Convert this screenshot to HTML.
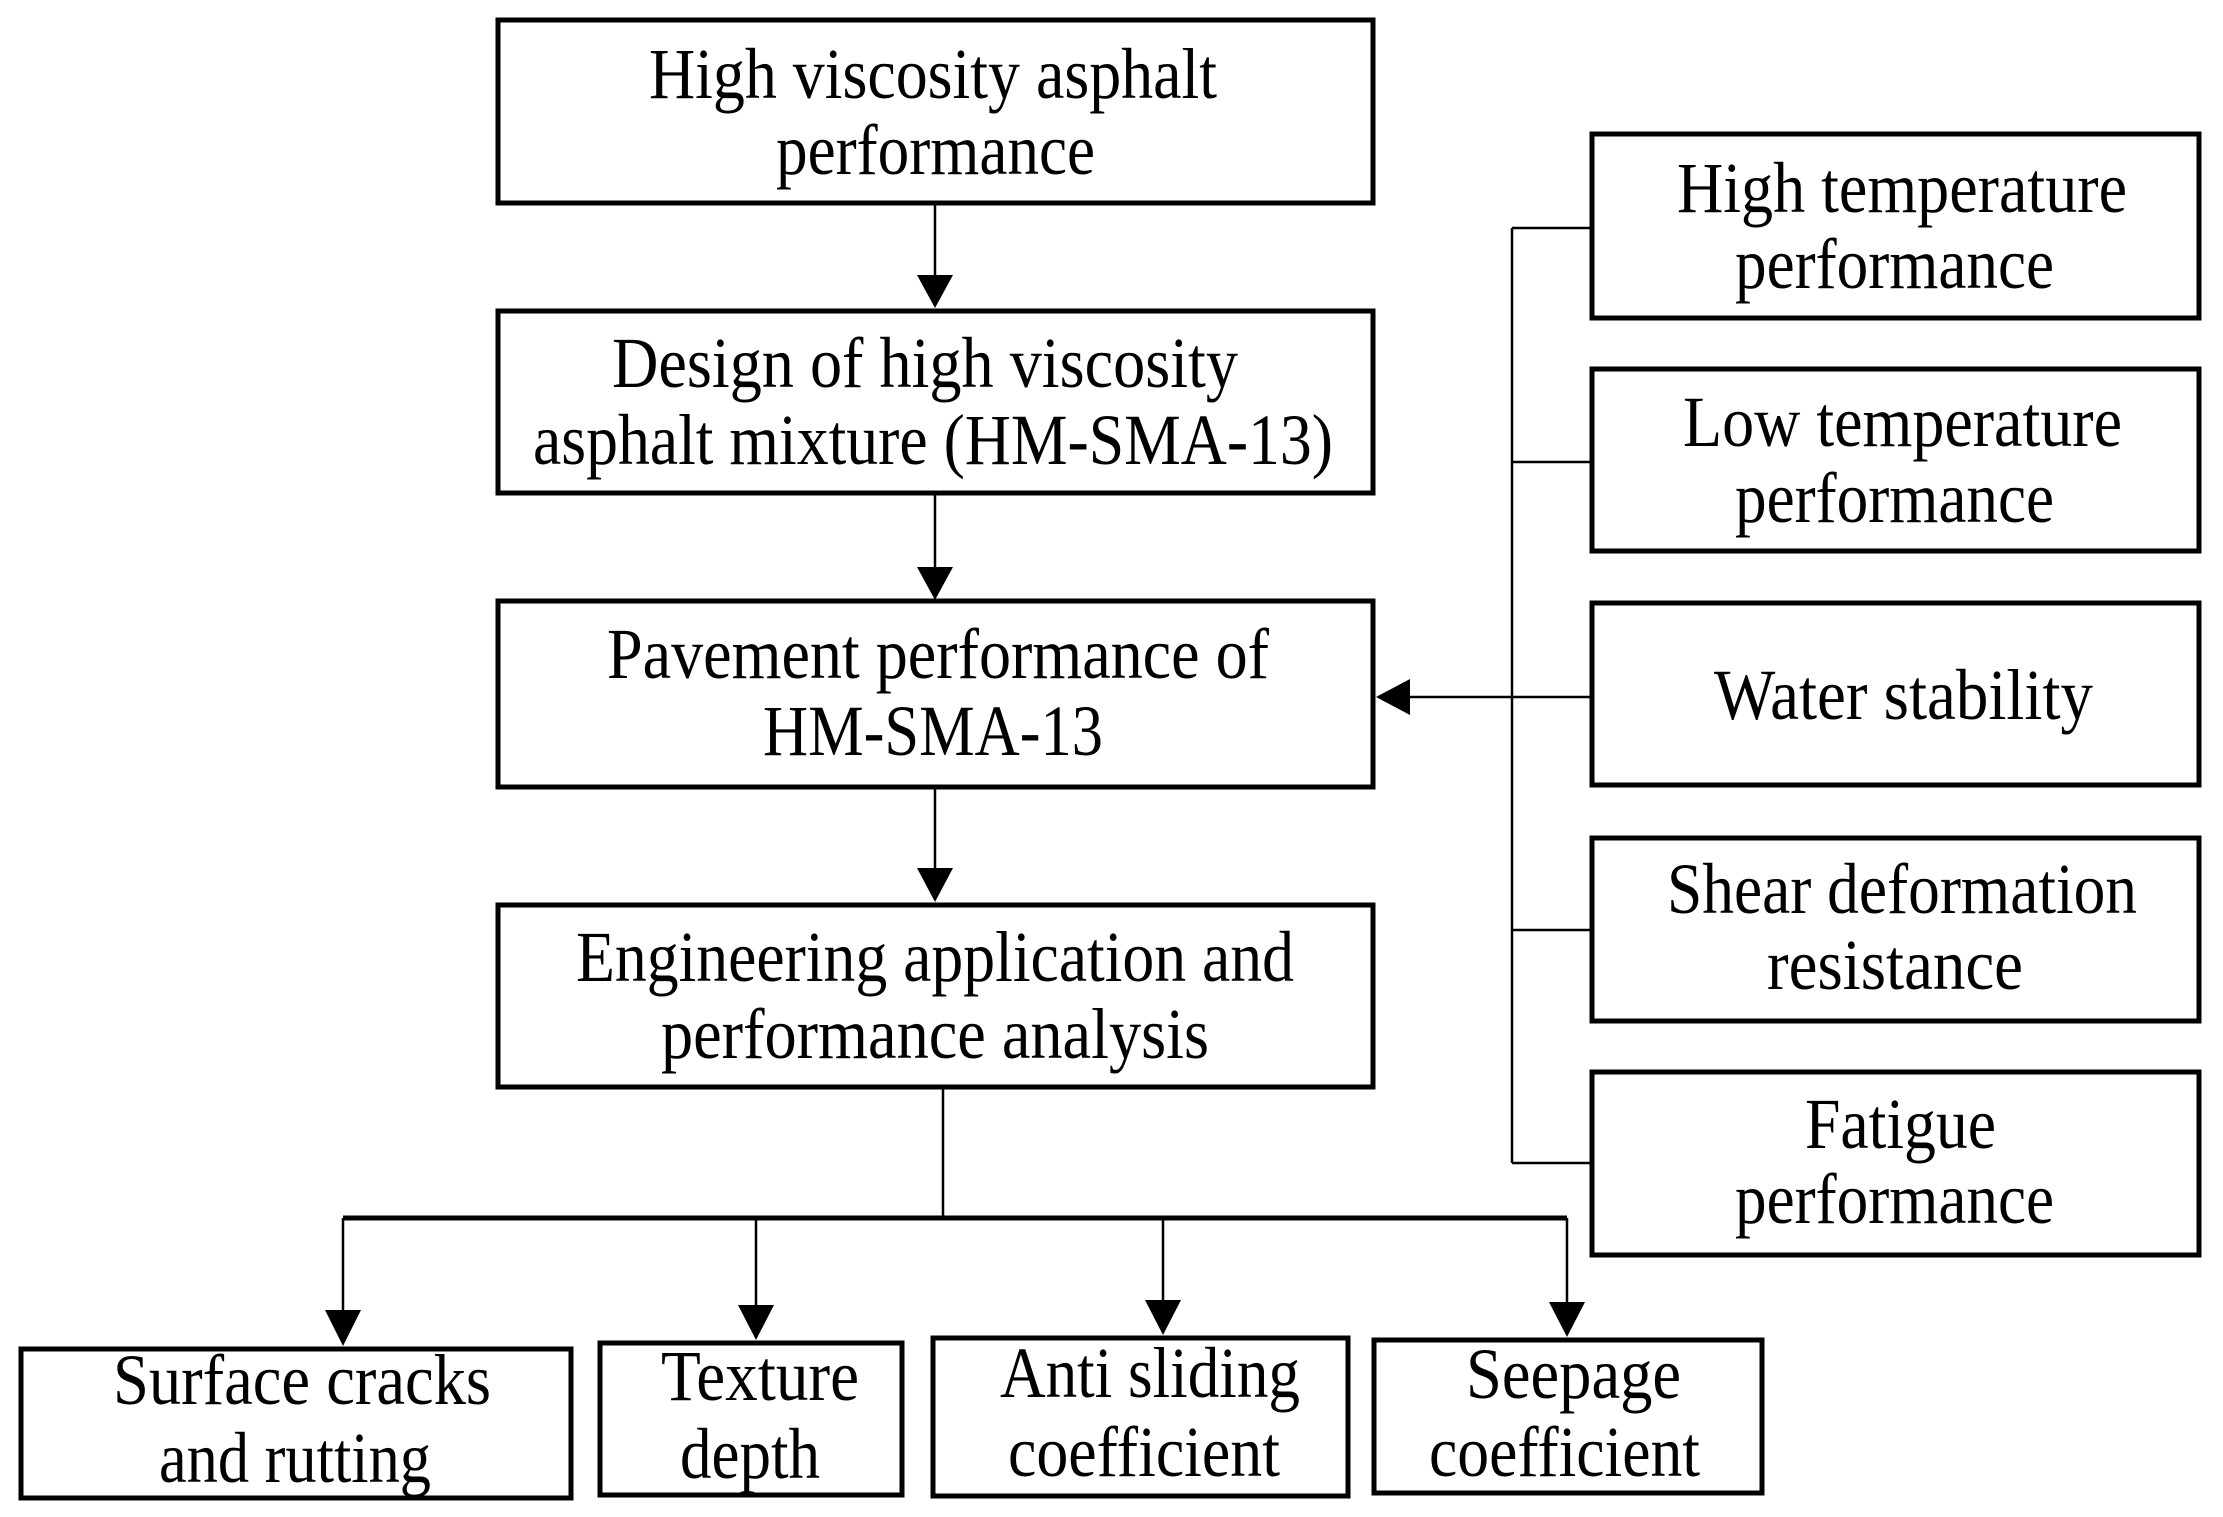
<!DOCTYPE html>
<html><head><meta charset="utf-8"><style>
html,body{margin:0;padding:0;background:#fff;}
svg{display:block;}
text{font-family:"Liberation Serif",serif;font-size:72px;fill:#000;}
</style></head><body>
<svg width="2223" height="1517" viewBox="0 0 2223 1517" xmlns="http://www.w3.org/2000/svg">
<g fill="#fff" stroke="#000" stroke-width="5">
<rect x="498" y="20" width="875" height="183"/>
<rect x="498" y="311" width="875" height="182"/>
<rect x="498" y="601" width="875" height="186"/>
<rect x="498" y="905" width="875" height="182"/>
<rect x="1592" y="134" width="607" height="184"/>
<rect x="1592" y="369" width="607" height="182"/>
<rect x="1592" y="603" width="607" height="182"/>
<rect x="1592" y="838" width="607" height="183"/>
<rect x="1592" y="1072" width="607" height="183"/>
<rect x="21" y="1349" width="550" height="149"/>
<rect x="600" y="1343" width="302" height="152"/>
<rect x="933" y="1338" width="415" height="158"/>
<rect x="1374" y="1340" width="388" height="153"/>
</g>
<g stroke="#000" stroke-width="2.5" fill="none">
<line x1="935" y1="203" x2="935" y2="275"/>
<line x1="935" y1="493" x2="935" y2="567"/>
<line x1="935" y1="787" x2="935" y2="868"/>
<line x1="1512" y1="228" x2="1512" y2="1163"/>
<line x1="1512" y1="228" x2="1592" y2="228"/>
<line x1="1512" y1="462" x2="1592" y2="462"/>
<line x1="1410" y1="697" x2="1592" y2="697"/>
<line x1="1512" y1="930" x2="1592" y2="930"/>
<line x1="1512" y1="1163" x2="1592" y2="1163"/>
<line x1="943" y1="1087" x2="943" y2="1218"/>
<line x1="343" y1="1218" x2="343" y2="1310"/>
<line x1="756" y1="1218" x2="756" y2="1305"/>
<line x1="1163" y1="1218" x2="1163" y2="1300"/>
<line x1="1567" y1="1218" x2="1567" y2="1302"/>
</g>
<line x1="343" y1="1218" x2="1567" y2="1218" stroke="#000" stroke-width="5"/>
<g fill="#000">
<polygon points="917,275 953,275 935,308"/>
<polygon points="917,567 953,567 935,600"/>
<polygon points="917,868 953,868 935,902"/>
<polygon points="1410,679 1410,715 1376,697"/>
<polygon points="325,1310 361,1310 343,1346"/>
<polygon points="738,1305 774,1305 756,1340"/>
<polygon points="1145,1300 1181,1300 1163,1335"/>
<polygon points="1549,1302 1585,1302 1567,1337"/>
</g>
<g>
<text x="649" y="98" textLength="568" lengthAdjust="spacingAndGlyphs">High viscosity asphalt</text>
<text x="776" y="174" textLength="319" lengthAdjust="spacingAndGlyphs">performance</text>
<text x="612" y="387" textLength="626" lengthAdjust="spacingAndGlyphs">Design of high viscosity</text>
<text x="533" y="464" textLength="800" lengthAdjust="spacingAndGlyphs">asphalt mixture (HM-SMA-13)</text>
<text x="607" y="678" textLength="662" lengthAdjust="spacingAndGlyphs">Pavement performance of</text>
<text x="763" y="755" textLength="340" lengthAdjust="spacingAndGlyphs">HM-SMA-13</text>
<text x="576" y="981" textLength="718" lengthAdjust="spacingAndGlyphs">Engineering application and</text>
<text x="661" y="1058" textLength="548" lengthAdjust="spacingAndGlyphs">performance analysis</text>
<text x="1677" y="212" textLength="450" lengthAdjust="spacingAndGlyphs">High temperature</text>
<text x="1735" y="288" textLength="319" lengthAdjust="spacingAndGlyphs">performance</text>
<text x="1683" y="446" textLength="439" lengthAdjust="spacingAndGlyphs">Low temperature</text>
<text x="1735" y="522" textLength="319" lengthAdjust="spacingAndGlyphs">performance</text>
<text x="1714" y="719" textLength="379" lengthAdjust="spacingAndGlyphs">Water stability</text>
<text x="1667" y="913" textLength="470" lengthAdjust="spacingAndGlyphs">Shear deformation</text>
<text x="1767" y="989" textLength="256" lengthAdjust="spacingAndGlyphs">resistance</text>
<text x="1805" y="1148" textLength="191" lengthAdjust="spacingAndGlyphs">Fatigue</text>
<text x="1735" y="1223" textLength="319" lengthAdjust="spacingAndGlyphs">performance</text>
<text x="113" y="1404" textLength="378" lengthAdjust="spacingAndGlyphs">Surface cracks</text>
<text x="159" y="1482" textLength="272" lengthAdjust="spacingAndGlyphs">and rutting</text>
<text x="661" y="1400" textLength="198" lengthAdjust="spacingAndGlyphs">Texture</text>
<text x="680" y="1478" textLength="140" lengthAdjust="spacingAndGlyphs">depth</text>
<text x="1000" y="1397" textLength="300" lengthAdjust="spacingAndGlyphs">Anti sliding</text>
<text x="1008" y="1476" textLength="272" lengthAdjust="spacingAndGlyphs">coefficient</text>
<text x="1466" y="1398" textLength="215" lengthAdjust="spacingAndGlyphs">Seepage</text>
<text x="1429" y="1476" textLength="271" lengthAdjust="spacingAndGlyphs">coefficient</text>
</g>
</svg>
</body></html>
